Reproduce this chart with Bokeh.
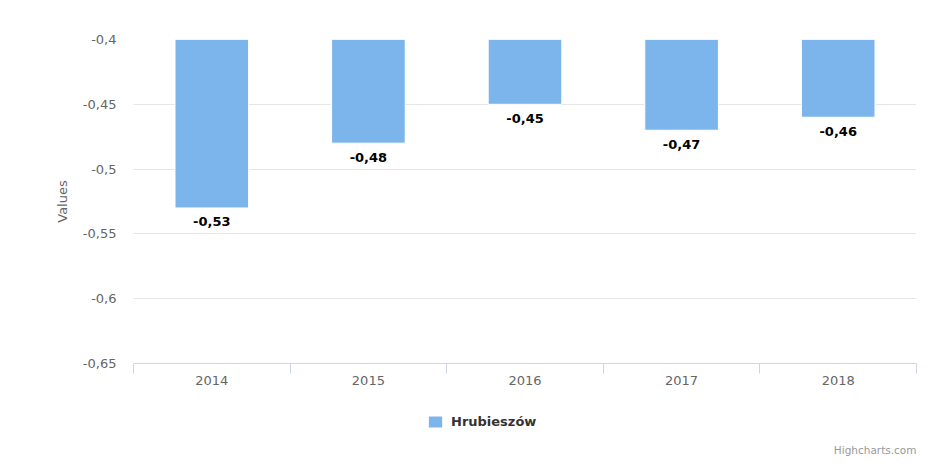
from bokeh.plotting import figure
from bokeh.layouts import column
from bokeh.models import Range1d, FixedTicker, Legend, LegendItem, Label, ColumnDataSource
from bokeh.core.properties import value
from bokeh.embed import file_html
from bokeh.resources import INLINE

categories = ["2014", "2015", "2016", "2017", "2018"]
values = [-0.53, -0.48, -0.45, -0.47, -0.46]
y_ticks = [-0.65, -0.6, -0.55, -0.5, -0.45, -0.4]
y_tick_labels = ["-0,65", "-0,6", "-0,55", "-0,5", "-0,45", "-0,4"]
series_name = "Hrubieszów"

FONT = "DejaVu Sans"
BAR_COLOR = "#7cb5ec"

xs = [i + 0.5 for i in range(len(categories))]
labels = [("%.2f" % v).replace(".", ",") for v in values]
src = ColumnDataSource(dict(x=xs, top=[-0.4] * len(values), bottom=values, label=labels))

# ---- main chart ----
p = figure(width=928, height=405, output_backend="svg", toolbar_location=None,
           x_range=Range1d(0, len(categories)), y_range=Range1d(-0.65, -0.4),
           min_border_left=133, min_border_right=12, min_border_top=39, min_border_bottom=42)
p.outline_line_color = None
p.background_fill_color = "white"
p.border_fill_color = "white"

bars = p.vbar(x="x", top="top", bottom="bottom", width=0.47, source=src,
              fill_color=BAR_COLOR, line_color="white", line_width=1)
p.text(x="x", y="bottom", text="label", source=src, text_align="center",
       text_baseline="middle", y_offset=14, text_font=value(FONT),
       text_font_size="13px", text_font_style="bold", text_color="black")

ya = p.yaxis[0]
ya.ticker = FixedTicker(ticks=y_ticks)
ya.major_label_overrides = {t: l for t, l in zip(y_ticks, y_tick_labels)}
ya.axis_line_color = None
ya.major_tick_line_color = None
ya.minor_tick_line_color = None
ya.major_tick_out = 0
ya.major_label_standoff = 17
ya.major_label_text_font = FONT
ya.major_label_text_font_size = "13px"
ya.major_label_text_color = "#666666"
ya.axis_label = "Values"
ya.axis_label_text_font = FONT
ya.axis_label_text_font_size = "13px"
ya.axis_label_text_font_style = "normal"
ya.axis_label_text_color = "#666666"
ya.axis_label_standoff = 10

xa = p.xaxis[0]
xa.ticker = FixedTicker(ticks=xs, minor_ticks=list(range(len(categories) + 1)))
xa.major_label_overrides = {x: c for x, c in zip(xs, categories)}
xa.axis_line_color = "#ccd6eb"
xa.major_tick_line_color = None
xa.major_tick_out = 0
xa.major_tick_in = 0
xa.minor_tick_line_color = "#ccd6eb"
xa.minor_tick_out = 10
xa.minor_tick_in = 0
xa.major_label_standoff = 2
xa.major_label_text_font = FONT
xa.major_label_text_font_size = "13px"
xa.major_label_text_color = "#666666"

p.xgrid.grid_line_color = None
p.ygrid.ticker = FixedTicker(ticks=y_ticks)
p.ygrid.grid_line_color = "#e6e6e6"

# ---- legend + credits strip (frame is aligned with the chart frame: x 133..916) ----
H2 = 63
p2 = figure(width=928, height=H2, output_backend="svg", toolbar_location=None,
            x_range=Range1d(0, 1), y_range=Range1d(0, 1),
            x_axis_type=None, y_axis_type=None,
            min_border_left=0, min_border_right=0, min_border_top=0, min_border_bottom=0)
p2.outline_line_color = None
p2.xgrid.visible = False
p2.ygrid.visible = False
p2.background_fill_color = "white"
p2.border_fill_color = "white"

# proxy of the series for the legend (its data lie outside this strip's range)
legend_glyph = p2.vbar(x="x", top="top", bottom="bottom", width=0.47, source=src,
                       fill_color=BAR_COLOR, line_color="white", line_width=1)
legend = Legend(items=[LegendItem(label=series_name, renderers=[legend_glyph])],
                location=(293, H2 - 24), orientation="horizontal",
                padding=0, margin=0, border_line_color=None, background_fill_alpha=0,
                glyph_width=18, glyph_height=15, label_height=15, label_standoff=7,
                label_text_font=FONT, label_text_font_size="13px",
                label_text_font_style="bold", label_text_color="#333333")
p2.add_layout(legend, "center")

credit = Label(x=783, y=H2 - 44, x_units="screen", y_units="screen", text="Highcharts.com",
               text_align="right", text_baseline="middle", text_font=FONT,
               text_font_size="10.5px", text_color="#999999")
p2.add_layout(credit)

open("out.html", "w").write(file_html(column(p, p2, spacing=0), INLINE))
